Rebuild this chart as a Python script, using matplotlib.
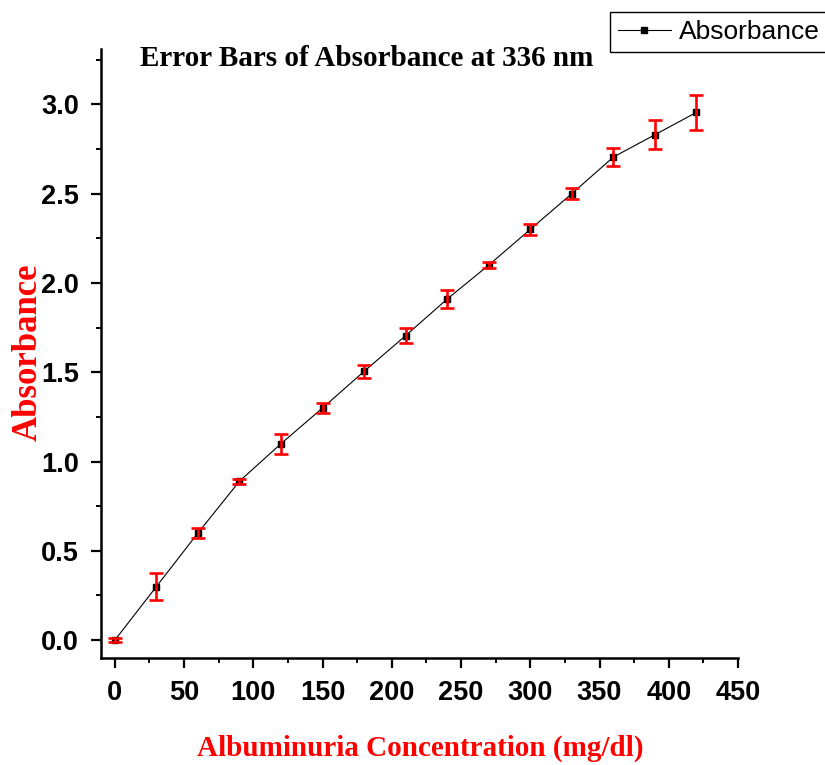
import numpy as np
import matplotlib.pyplot as plt
from matplotlib.ticker import MultipleLocator

# albuminuria concentration (mg/dl) and absorbance at 336 nm
conc = [0, 30, 60, 90, 120, 150, 180, 210, 240, 270, 300, 330, 360, 390, 420]
absorb = [0.0, 0.30, 0.60, 0.89, 1.10, 1.30, 1.505, 1.705, 1.91, 2.10, 2.30, 2.50, 2.705, 2.83, 2.955]
err = [0.01, 0.074, 0.026, 0.015, 0.055, 0.026, 0.035, 0.04, 0.05, 0.018, 0.029, 0.031, 0.05, 0.082, 0.096]

fig = plt.figure(figsize=(8.25, 7.65), dpi=100)
ax = fig.add_axes([101/825, 1 - 658/765, (738 - 101)/825, (658 - 49)/765])

line, = ax.plot(conc, absorb, color='black', lw=0.8, marker='s', ms=4.8,
                mfc='black', mec='black', label='Absorbance', zorder=2)
ax.errorbar(conc, absorb, yerr=err, fmt='none', ecolor='red', elinewidth=1.9,
            capsize=5, capthick=1.9, zorder=3)

ax.set_xlim(-10, 450)
ax.set_ylim(-0.1, 3.31)
ax.xaxis.set_major_locator(MultipleLocator(50))
ax.xaxis.set_minor_locator(MultipleLocator(25))
ax.yaxis.set_major_locator(MultipleLocator(0.5))
ax.yaxis.set_minor_locator(MultipleLocator(0.25))
ax.yaxis.set_major_formatter(plt.FormatStrFormatter('%.1f'))

for side in ['top', 'right']:
    ax.spines[side].set_visible(False)
for side in ['left', 'bottom']:
    ax.spines[side].set_linewidth(1.8)
ax.tick_params(which='major', length=7, width=1.6, direction='out', pad=9)
ax.tick_params(which='minor', length=3.5, width=1.4, direction='out')
for lbl in ax.get_xticklabels() + ax.get_yticklabels():
    lbl.set_family('Liberation Sans')
    lbl.set_fontweight('bold')
    lbl.set_fontsize(19.5)

fig.text(367/825, 1 - 59/765, 'Error Bars of Absorbance at 336 nm', family='Liberation Serif',
         fontweight='bold', fontsize=21, ha='center', va='center')
fig.text(28/825, 1 - 352/765, 'Absorbance', family='Liberation Serif', fontweight='bold',
         fontsize=25, color='red', rotation=90, ha='center', va='center')
fig.text(420/825, 1 - 748/765, 'Albuminuria Concentration (mg/dl)', family='Liberation Serif',
         fontweight='bold', fontsize=21, color='red', ha='center', va='center')

leg = fig.legend(handles=[line], loc='upper left', bbox_to_anchor=(610/825, 1 - 12/765),
                 borderaxespad=0, fancybox=False, edgecolor='black', framealpha=1,
                 borderpad=0.3, handlelength=2.0, handletextpad=0.3,
                 prop={'family': 'Liberation Sans', 'size': 19})
leg.get_frame().set_linewidth(1.0)

fig.savefig('out.png', dpi=100)
